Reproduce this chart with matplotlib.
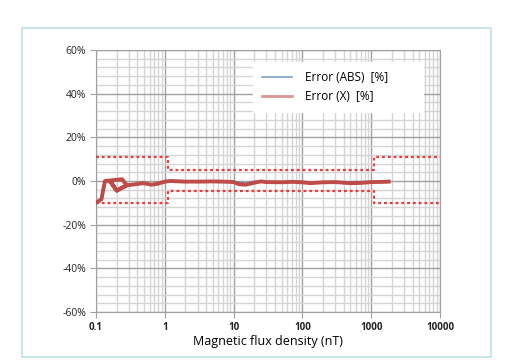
import matplotlib.pyplot as plt
from matplotlib.lines import Line2D
from matplotlib.patches import Rectangle
from matplotlib.ticker import FixedLocator, LogLocator, NullFormatter

plt.rcParams['font.family'] = ['Open Sans', 'DejaVu Sans']

# Error (X) [%] -- measured in sweep order (not monotonic at the start)
x_err_x = [0.1, 0.12, 0.135, 0.24, 0.28, 0.2, 0.16, 0.2, 0.28, 0.35, 0.49, 0.64, 0.8, 1.0, 1.2,
           2, 3, 5, 7, 10, 12, 15, 20, 25, 30, 50, 70, 100, 130, 200, 300, 500, 700, 1000, 1500, 1800]
y_err_x = [-10, -8.4, 0, 0.8, -2, -4.4, 0, -4.4, -2, -1.6, -1.0, -1.7, -1.2, -0.3, 0,
           -0.3, -0.3, -0.2, -0.3, -0.5, -1.5, -1.7, -0.8, -0.2, -0.5, -0.6, -0.4, -0.6, -1.0, -0.6,
           -0.5, -1.0, -0.9, -0.5, -0.4, -0.3]

# Error (ABS) [%]
x_err_abs = [0.1, 0.12, 0.135, 0.16, 0.2, 0.28, 0.49, 0.64, 1.0, 2, 5, 10, 15, 20, 30,
             50, 100, 130, 200, 500, 700, 1000, 1800]
y_err_abs = [-9.8, -8.2, 0, 0, -4.2, -1.9, -0.9, -1.5, -0.2, -0.2, -0.1, -0.3, -1.0, -0.1, -0.3,
             -0.4, -0.2, -0.5, -0.4, -0.3, -0.2, -0.4, -0.3]

# tolerance limits
lim_x = [0.1, 1.1, 1.1, 1100, 1100, 10000]
lim_upper = [11, 11, 4.9, 4.9, 11, 11]
lim_lower = [-10.3, -10.3, -4.7, -4.7, -10.3, -10.3]

y_ticks = [-60, -40, -20, 0, 20, 40, 60]
x_ticks = [0.1, 1, 10, 100, 1000, 10000]
x_tick_labels = ['0.1', '1', '10', '100', '1000', '10000']

fig = plt.figure(figsize=(5.18, 3.64), dpi=100)
fig.patches.append(Rectangle((0.0425, 0.019), 0.906, 0.904, transform=fig.transFigure,
                             fill=False, edgecolor='#bfe2e6', linewidth=1.2))

ax = fig.add_axes([0.1853, 0.1429, 0.6641, 0.7198])
ax.set_xscale('log')
ax.set_xlim(0.1, 10000)
ax.set_ylim(-60, 60)

# grid
ax.yaxis.set_minor_locator(FixedLocator(range(-60, 61, 4)))
ax.xaxis.set_minor_locator(LogLocator(base=10, subs=range(2, 10)))
ax.xaxis.set_minor_formatter(NullFormatter())
ax.grid(True, which='major', color='#a0a0a0', linewidth=1.0)
ax.grid(True, which='minor', color='#d4d4d4', linewidth=1.0)
ax.set_axisbelow(True)

ax.plot(lim_x, lim_upper, color='#ee3a3a', linewidth=1.6, linestyle=(0, (1.3, 1.3)), zorder=3)
ax.plot(lim_x, lim_lower, color='#ee3a3a', linewidth=1.6, linestyle=(0, (1.3, 1.3)), zorder=3)

ax.plot(x_err_abs, y_err_abs, color='#4f81bd', linewidth=1.0, zorder=4)
ax.plot(x_err_x, y_err_x, color='#be4b48', linewidth=2.8, solid_joinstyle='round', zorder=5)

ax.set_yticks(y_ticks)
ax.set_yticklabels([f'{v}%' for v in y_ticks], fontsize=7.5, color='#222222')
ax.set_xticks(x_ticks)
ax.set_xticklabels(x_tick_labels, fontsize=7, fontweight='bold', color='#222222')
ax.tick_params(axis='both', which='major', length=4, color='#a0a0a0', pad=3)
ax.tick_params(axis='both', which='minor', length=0)
for s in ax.spines.values():
    s.set_color('#a0a0a0')

ax.set_xlabel('Magnetic flux density (nT)', fontsize=9, labelpad=2)

handles = [Line2D([], [], color='#7f9fcc', linewidth=1.2),
           Line2D([], [], color='#d89694', linewidth=2.0)]
leg = ax.legend(handles, ['Error (ABS)  [%]', 'Error (X)  [%]'], loc='upper left',
                bbox_to_anchor=(0.456, 0.764, 0.494, 0.19), mode='expand',
                fontsize=8.5, frameon=True, fancybox=False,
                framealpha=1, edgecolor='white', handlelength=2.6, borderpad=0.75,
                labelspacing=0.55, handletextpad=1.1, borderaxespad=0)

fig.savefig('out.png', dpi=100)
